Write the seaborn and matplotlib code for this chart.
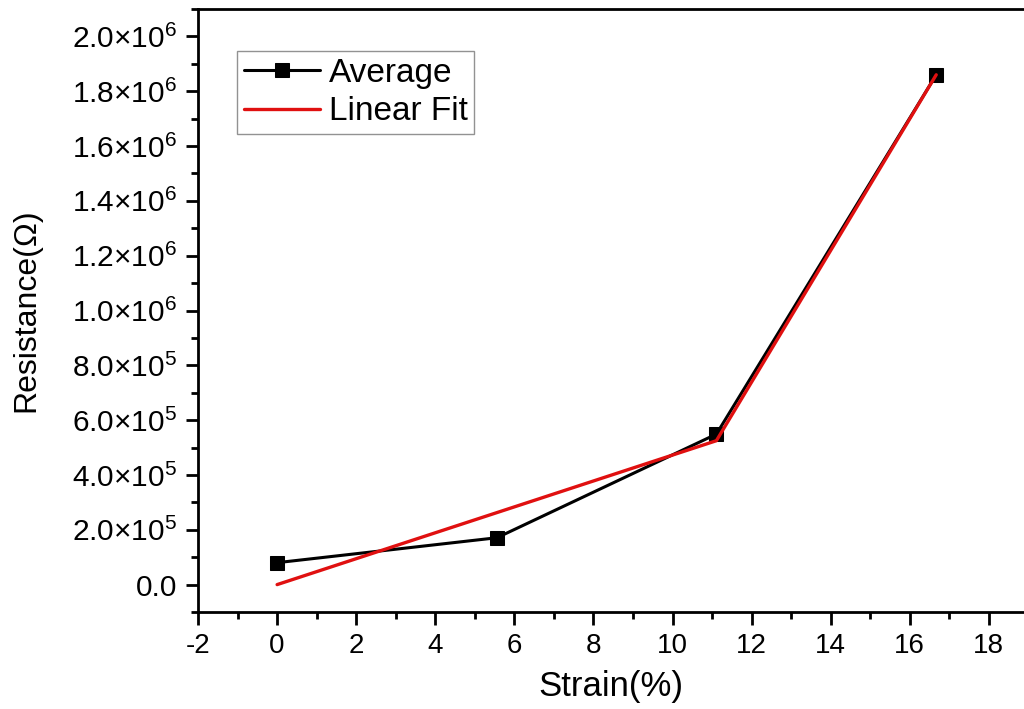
import matplotlib
matplotlib.use('Agg')
import matplotlib.pyplot as plt
from matplotlib.ticker import FuncFormatter, MultipleLocator
import pandas as pd
import seaborn as sns

# data
strain = [0.0, 5.56, 11.11, 16.67]
resistance_avg = [8.0e4, 1.71e5, 5.49e5, 1.86e6]
fit_strain = [0.0, 11.11, 16.67]
fit_resistance = [0.0, 5.25e5, 1.86e6]
y_ticks = [0.0, 2e5, 4e5, 6e5, 8e5, 1e6, 1.2e6, 1.4e6, 1.6e6, 1.8e6, 2e6]
x_ticks = [-2, 0, 2, 4, 6, 8, 10, 12, 14, 16, 18]

sns.set_style('ticks')
plt.rcParams['font.family'] = ['Liberation Sans', 'DejaVu Sans']
plt.rcParams['mathtext.fontset'] = 'custom'
plt.rcParams['mathtext.rm'] = 'Liberation Sans'
plt.rcParams['mathtext.it'] = 'Liberation Sans:italic'
plt.rcParams['mathtext.bf'] = 'Liberation Sans:bold'
plt.rcParams['axes.unicode_minus'] = False
for k in ['text.color', 'axes.labelcolor', 'xtick.color', 'ytick.color', 'axes.edgecolor']:
    plt.rcParams[k] = 'black'

avg = pd.DataFrame({'strain': strain, 'resistance': resistance_avg})
fit = pd.DataFrame({'strain': fit_strain, 'resistance': fit_resistance})

fig = plt.figure(figsize=(10.24, 7.09), dpi=100)
ax = fig.add_axes([0.1934, 0.1368, 1 - 0.1934, 0.8505])

sns.lineplot(data=avg, x='strain', y='resistance', ax=ax, color='black',
             marker='s', markersize=10, markeredgecolor='black', linewidth=2.2,
             label='Average')
sns.lineplot(data=fit, x='strain', y='resistance', ax=ax, color='#e01010',
             linewidth=2.4, label='Linear Fit')


def sci(v, pos):
    if v == 0:
        return '0.0'
    exp = len(str(int(abs(v)))) - 1
    mant = v / 10 ** exp
    return '%.1f×10$^{%d}$' % (mant, exp)


ax.set_xlim(-2, 18.89)
ax.set_ylim(-1e5, 2.1e6)
ax.set_xticks(x_ticks)
ax.set_yticks(y_ticks)
ax.xaxis.set_minor_locator(MultipleLocator(1))
ax.yaxis.set_minor_locator(MultipleLocator(1e5))
ax.yaxis.set_major_formatter(FuncFormatter(sci))

ax.tick_params(which='major', direction='out', length=9, width=2, pad=6)
ax.tick_params(axis='x', which='major', labelsize=20)
ax.tick_params(axis='y', which='major', labelsize=21.5)
ax.tick_params(which='minor', direction='out', length=5, width=2)
for s in ['left', 'bottom', 'top']:
    ax.spines[s].set_linewidth(2)
ax.spines['right'].set_visible(False)

ax.set_xlabel('Strain(%)', fontsize=25, labelpad=8)
ax.set_ylabel('Resistance(Ω)', fontsize=23, labelpad=22)

leg = ax.legend(loc='upper left', bbox_to_anchor=(0.047, 0.93), fontsize=24,
                frameon=True, fancybox=False, edgecolor='#777777',
                handlelength=2.3, borderpad=0.2, labelspacing=0.22,
                handletextpad=0.25, borderaxespad=0)
leg.get_frame().set_linewidth(1)

fig.savefig('out.png', dpi=100)
